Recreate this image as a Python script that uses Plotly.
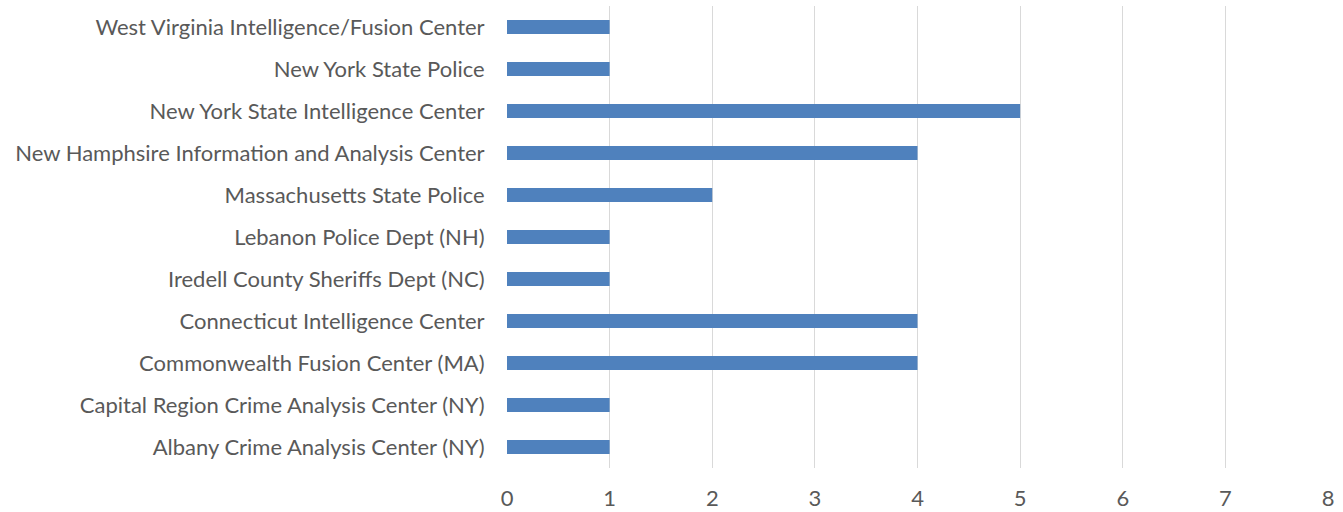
import plotly.graph_objects as go

categories = [
    "Albany Crime Analysis Center (NY)",
    "Capital Region Crime Analysis Center (NY)",
    "Commonwealth Fusion Center (MA)",
    "Connecticut Intelligence Center",
    "Iredell County Sheriffs Dept (NC)",
    "Lebanon Police Dept (NH)",
    "Massachusetts State Police",
    "New Hamphsire Information and Analysis Center",
    "New York State Intelligence Center",
    "New York State Police",
    "West Virginia Intelligence/Fusion Center",
]
values = [1, 1, 4, 4, 1, 1, 2, 4, 5, 1, 1]
x_ticks = [0, 1, 2, 3, 4, 5, 6, 7, 8]

font_family = "Lato, Noto Sans, sans-serif"
font_size = 22

fig = go.Figure(go.Bar(
    x=values, y=categories, orientation="h",
    marker=dict(color="#4F81BD", line=dict(width=0)),
    width=0.333,
))

fig.update_layout(
    width=1343, height=512,
    margin=dict(l=507, r=15, t=6, b=44, autoexpand=False),
    paper_bgcolor="white", plot_bgcolor="white",
    showlegend=False,
    font=dict(family=font_family, size=font_size, color="#595959"),
    xaxis=dict(
        range=[0, 8], tickvals=x_ticks, showgrid=True, gridcolor="#D9D9D9",
        gridwidth=1.3, zeroline=False, showline=False, automargin=False,
        ticks="outside", ticklen=11, tickcolor="rgba(0,0,0,0)",
        tickfont=dict(family=font_family, size=font_size, color="#595959"),
    ),
    yaxis=dict(
        range=[-0.5, 10.5], showgrid=False, zeroline=False, showline=False,
        automargin=False,
        ticks="outside", ticklen=17, tickcolor="rgba(0,0,0,0)",
        tickfont=dict(family=font_family, size=font_size, color="#595959"),
    ),
)

fig.write_html(
    "out.html",
    config={"displayModeBar": False},
    post_script="document.body.style.margin='0';document.body.style.padding='0';",
)
